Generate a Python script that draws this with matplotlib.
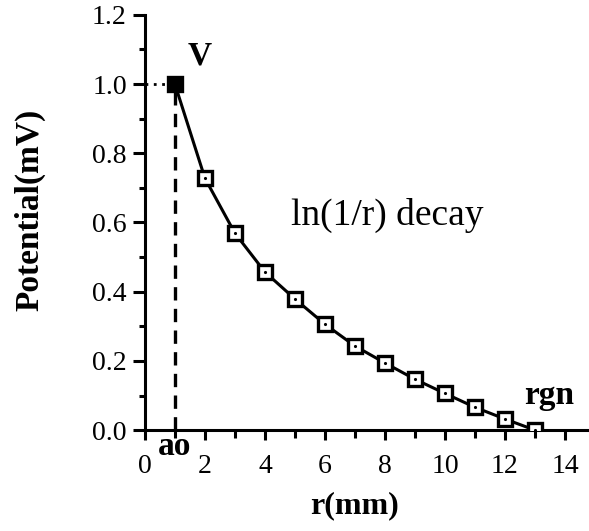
import matplotlib
matplotlib.use("Agg")
import matplotlib.pyplot as plt
from matplotlib.ticker import MultipleLocator

r_mm = [1, 2, 3, 4, 5, 6, 7, 8, 9, 10, 11, 12, 13]
potential_mv = [1.0, 0.728, 0.569, 0.457, 0.379, 0.306, 0.243, 0.194, 0.147, 0.106, 0.066, 0.032, 0.0]
x_ticks = [0, 2, 4, 6, 8, 10, 12, 14]
y_ticks = [0.0, 0.2, 0.4, 0.6, 0.8, 1.0, 1.2]

plt.rcParams['font.family'] = ['Liberation Serif', 'DejaVu Serif']

fig = plt.figure(figsize=(5.89, 5.31), dpi=100)
ax = fig.add_axes([0.246, 0.190, 0.754, 0.782])

ax.plot(r_mm, potential_mv, color='black', lw=2.2, marker='s', ms=10,
        mfc='white', mec='black', mew=2.4, zorder=3)
ax.plot(r_mm, potential_mv, ls='none', marker='.', ms=2.5, color='black', zorder=4)
ax.plot([r_mm[0]], [potential_mv[0]], ls='none', marker='s', ms=10, color='black', zorder=5)

ax.plot([r_mm[0], r_mm[0]], [0, potential_mv[0]], ls=(0, (4, 2.5)), color='black', lw=2.4, zorder=2)
ax.plot([0, r_mm[0]], [potential_mv[0], potential_mv[0]], ls=(0, (1, 2)), color='black', lw=2.0, zorder=2)

ax.set_xlim(0, 14.8)
ax.set_ylim(0, 1.2)
ax.set_xticks(x_ticks)
ax.set_yticks(y_ticks)
ax.set_xticklabels([str(t) for t in x_ticks])
ax.set_yticklabels([f"{t:.1f}" for t in y_ticks])
ax.xaxis.set_minor_locator(MultipleLocator(1))
ax.yaxis.set_minor_locator(MultipleLocator(0.1))

for s in ['top', 'right']:
    ax.spines[s].set_visible(False)
for s in ['left', 'bottom']:
    ax.spines[s].set_linewidth(2.2)

ax.tick_params(which='major', direction='out', length=9, width=2.2, labelsize=20, pad=4)
ax.tick_params(which='minor', direction='out', length=4, width=2.2)
ax.tick_params(axis='x', which='major', length=7, pad=10)
ax.tick_params(axis='x', which='minor', length=6)

ax.set_xlabel('r(mm)', fontsize=23, fontweight='bold')
ax.set_ylabel('Potential(mV)', fontsize=24, fontweight='bold')
ax.xaxis.set_label_coords(0.473, -0.148)
ax.yaxis.set_label_coords(-0.225, 0.53)

ax.text(1.83, 1.08, 'V', fontsize=24, fontweight='bold', ha='center', va='center')
ax.text(8.07, 0.621, 'ln(1/r) decay', fontsize=27, ha='center', va='center')
ax.text(1.0, -0.047, 'ao', fontsize=24, fontweight='bold', ha='center', va='center', clip_on=False)
ax.text(13.47, 0.1, 'rgn', fontsize=24, fontweight='bold', ha='center', va='center')

fig.savefig('out.png', dpi=100)
